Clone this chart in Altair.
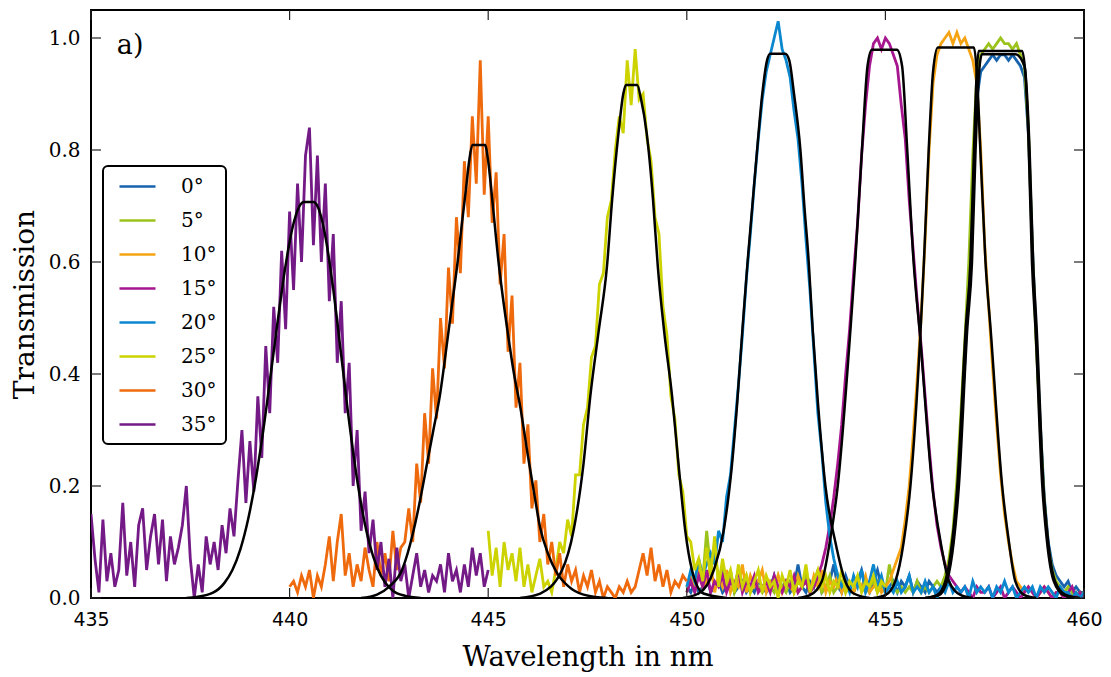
import altair as alt
import pandas as pd

# ---------------- data ----------------
ANGLES = ["0°", "5°", "10°", "15°", "20°", "25°", "30°", "35°"]
COLORS = ["#1763ad", "#9cc31b", "#f5a312", "#a6168f", "#0b87cf", "#ccd300", "#ee6a0d", "#731a86"]
X_TICKS = [435, 440, 445, 450, 455, 460]
Y_TICKS = [0.0, 0.2, 0.4, 0.6, 0.8, 1.0]
STEP = 0.1  # sampling of the listed values (nm)

# measured transmission, first wavelength of each list
start_0 = 450.0
meas_0 = [0.02, 0.01, 0.03, 0.01, 0.02, 0.04, 0.01, 0.02, 0.03, 0.01,
          0.02, 0.04, 0.01, 0.02, 0.03, 0.01, 0.02, 0.01, 0.03, 0.02,
          0.01, 0.02, 0.04, 0.01, 0.02, 0.03, 0.01, 0.02, 0.06, 0.02,
          0.01, 0.03, 0.02, 0.05, 0.01, 0.02, 0.03, 0.06, 0.02, 0.01,
          0.04, 0.02, 0.01, 0.03, 0.05, 0.02, 0.01, 0.03, 0.05, 0.02,
          0.01, 0.02, 0.03, 0.01, 0.03, 0.02, 0.04, 0.01, 0.03, 0.02,
          0.01, 0.03, 0.02, 0.01, 0.02, 0.03, 0.06, 0.10, 0.19, 0.30,
          0.42, 0.57, 0.75, 0.89, 0.94, 0.95, 0.96, 0.97, 0.96, 0.97,
          0.97, 0.96, 0.97, 0.96, 0.95, 0.93, 0.83, 0.63, 0.46, 0.31,
          0.18, 0.10, 0.06, 0.04, 0.03, 0.02, 0.03, 0.01, 0.02, 0.01,
          0.01]
start_5 = 450.0
meas_5 = [0.01, 0.04, 0.02, 0.06, 0.03, 0.12, 0.05, 0.09, 0.03, 0.06,
          0.02, 0.05, 0.01, 0.03, 0.02, 0.04, 0.01, 0.03, 0.02, 0.01,
          0.03, 0.02, 0.01, 0.04, 0.02, 0.01, 0.03, 0.02, 0.01, 0.02,
          0.04, 0.01, 0.02, 0.03, 0.01, 0.02, 0.04, 0.01, 0.02, 0.03,
          0.01, 0.02, 0.01, 0.03, 0.02, 0.01, 0.02, 0.03, 0.01, 0.02,
          0.01, 0.06, 0.02, 0.01, 0.02, 0.01, 0.02, 0.01, 0.03, 0.01,
          0.02, 0.01, 0.02, 0.03, 0.02, 0.04, 0.07, 0.12, 0.21, 0.33,
          0.46, 0.60, 0.79, 0.93, 0.97, 0.98, 0.99, 0.98, 0.99, 1.00,
          0.99, 0.99, 0.98, 0.99, 0.97, 0.95, 0.84, 0.62, 0.45, 0.30,
          0.17, 0.09, 0.05, 0.03, 0.02, 0.01, 0.02, 0.01, 0.00, 0.01,
          0.00]
start_10 = 450.0
meas_10 = [0.02, 0.04, 0.01, 0.05, 0.02, 0.03, 0.06, 0.01, 0.04, 0.02,
           0.05, 0.01, 0.03, 0.02, 0.06, 0.01, 0.04, 0.02, 0.03, 0.05,
           0.01, 0.03, 0.02, 0.04, 0.01, 0.03, 0.02, 0.01, 0.04, 0.02,
           0.03, 0.01, 0.04, 0.02, 0.05, 0.01, 0.03, 0.02, 0.04, 0.01,
           0.03, 0.02, 0.01, 0.03, 0.02, 0.04, 0.01, 0.02, 0.03, 0.01,
           0.02, 0.03, 0.05, 0.07, 0.09, 0.14, 0.20, 0.29, 0.39, 0.50,
           0.64, 0.80, 0.92, 0.97, 0.99, 1.00, 1.01, 0.99, 1.01, 0.99,
           1.00, 0.98, 0.96, 0.92, 0.80, 0.63, 0.52, 0.41, 0.31, 0.22,
           0.15, 0.10, 0.06, 0.03, 0.02, 0.01, 0.02, 0.01, 0.00, 0.01,
           0.02, 0.01, 0.00, 0.01, 0.01, 0.00, 0.01, 0.00, 0.01, 0.00,
           0.01]
start_15 = 450.0
meas_15 = [0.01, 0.03, 0.01, 0.04, 0.02, 0.05, 0.01, 0.03, 0.02, 0.04,
           0.01, 0.03, 0.02, 0.05, 0.01, 0.03, 0.02, 0.04, 0.01, 0.02,
           0.03, 0.01, 0.04, 0.02, 0.01, 0.03, 0.02, 0.04, 0.01, 0.02,
           0.03, 0.01, 0.02, 0.04, 0.06, 0.09, 0.13, 0.18, 0.24, 0.31,
           0.40, 0.48, 0.58, 0.67, 0.79, 0.88, 0.95, 0.99, 1.00, 0.98,
           1.00, 0.99, 0.97, 0.95, 0.88, 0.82, 0.71, 0.62, 0.53, 0.45,
           0.36, 0.27, 0.19, 0.13, 0.09, 0.06, 0.04, 0.03, 0.02, 0.01,
           0.02, 0.01, 0.00, 0.02, 0.01, 0.01, 0.02, 0.00, 0.01, 0.02,
           0.00, 0.01, 0.02, 0.01, 0.00, 0.01, 0.02, 0.01, 0.00, 0.01,
           0.02, 0.01, 0.00, 0.01, 0.01, 0.00, 0.01, 0.02, 0.00, 0.01,
           0.00]
start_20 = 450.0
meas_20 = [0.02, 0.05, 0.03, 0.07, 0.04, 0.06, 0.08, 0.06, 0.12, 0.10,
           0.18, 0.22, 0.30, 0.38, 0.47, 0.57, 0.65, 0.74, 0.82, 0.89,
           0.94, 0.97, 1.00, 1.03, 0.98, 0.96, 0.93, 0.87, 0.82, 0.74,
           0.64, 0.55, 0.44, 0.33, 0.26, 0.17, 0.11, 0.07, 0.04, 0.02,
           0.03, 0.01, 0.04, 0.02, 0.05, 0.01, 0.03, 0.06, 0.02, 0.04,
           0.01, 0.02, 0.01, 0.03, 0.01, 0.02, 0.04, 0.01, 0.02, 0.01,
           0.03, 0.01, 0.02, 0.00, 0.02, 0.01, 0.03, 0.01, 0.02, 0.01,
           0.02, 0.00, 0.03, 0.01, 0.02, 0.01, 0.02, 0.00, 0.02, 0.01,
           0.03, 0.01, 0.02, 0.00, 0.01, 0.02, 0.01, 0.02, 0.00, 0.02,
           0.01, 0.02, 0.01, 0.00, 0.02, 0.01, 0.01, 0.00, 0.01, 0.00,
           0.01]
start_25 = 445.0
meas_25 = [0.12, 0.04, 0.09, 0.02, 0.10, 0.05, 0.08, 0.03, 0.09, 0.02,
           0.06, 0.01, 0.04, 0.07, 0.02, 0.03, 0.01, 0.05, 0.10, 0.08,
           0.14, 0.11, 0.22, 0.22, 0.31, 0.34, 0.43, 0.45, 0.56, 0.58,
           0.68, 0.71, 0.80, 0.86, 0.83, 0.96, 0.88, 0.98, 0.89, 0.90,
           0.82, 0.78, 0.68, 0.65, 0.52, 0.47, 0.36, 0.32, 0.22, 0.19,
           0.11, 0.10, 0.05, 0.07, 0.03, 0.09, 0.04, 0.11, 0.02, 0.07,
           0.03, 0.05, 0.01, 0.06, 0.02, 0.04, 0.01, 0.03, 0.05, 0.01,
           0.04, 0.02, 0.03, 0.00, 0.04, 0.02, 0.05, 0.01, 0.03, 0.02,
           0.06, 0.01, 0.03, 0.05, 0.02, 0.04, 0.01, 0.03, 0.02, 0.05,
           0.01, 0.03, 0.02, 0.04, 0.01, 0.03, 0.02, 0.04, 0.01, 0.03,
           0.02]
start_30 = 440.0
meas_30 = [0.02, 0.03, 0.01, 0.04, 0.02, 0.05, 0.00, 0.04, 0.02, 0.06,
           0.11, 0.03, 0.10, 0.15, 0.04, 0.08, 0.02, 0.06, 0.03, 0.09,
           0.05, 0.02, 0.10, 0.04, 0.08, 0.03, 0.12, 0.05, 0.09, 0.10,
           0.16, 0.10, 0.24, 0.17, 0.33, 0.24, 0.41, 0.32, 0.50, 0.41,
           0.59, 0.49, 0.68, 0.58, 0.78, 0.68, 0.86, 0.74, 0.96, 0.72,
           0.86, 0.67, 0.76, 0.56, 0.65, 0.44, 0.54, 0.34, 0.42, 0.24,
           0.31, 0.16, 0.21, 0.10, 0.15, 0.06, 0.10, 0.04, 0.08, 0.02,
           0.06, 0.03, 0.05, 0.01, 0.04, 0.02, 0.05, 0.01, 0.03, 0.00,
           0.02, 0.01, 0.00, 0.02, 0.01, 0.03, 0.01, 0.02, 0.05, 0.08,
           0.04, 0.09, 0.03, 0.06, 0.02, 0.05, 0.01, 0.03, 0.02, 0.04,
           0.03]
start_35 = 435.0
meas_35 = [0.15, 0.07, 0.01, 0.14, 0.03, 0.08, 0.02, 0.05, 0.17, 0.04,
           0.10, 0.02, 0.13, 0.16, 0.05, 0.11, 0.15, 0.06, 0.14, 0.03,
           0.11, 0.06, 0.09, 0.13, 0.20, 0.07, 0.00, 0.06, 0.01, 0.11,
           0.06, 0.10, 0.05, 0.13, 0.08, 0.16, 0.11, 0.21, 0.30, 0.17,
           0.28, 0.19, 0.36, 0.25, 0.45, 0.33, 0.52, 0.42, 0.62, 0.48,
           0.69, 0.55, 0.74, 0.60, 0.79, 0.84, 0.63, 0.79, 0.60, 0.74,
           0.53, 0.65, 0.42, 0.53, 0.33, 0.42, 0.20, 0.30, 0.12, 0.19,
           0.08, 0.14, 0.05, 0.10, 0.02, 0.07, 0.00, 0.09, 0.03, 0.06,
           0.00, 0.04, 0.08, 0.02, 0.05, 0.01, 0.04, 0.03, 0.06, 0.01,
           0.08, 0.03, 0.05, 0.01, 0.06, 0.02, 0.09, 0.04, 0.08, 0.02,
           0.05]

# fitted model curves (wavelength, transmission)
fit_0 = [(456.0, 0.0), (456.35, 0.005), (456.55, 0.03), (456.72, 0.1), (456.85, 0.2), (457.06, 0.479),
         (457.18, 0.6), (457.27, 0.8), (457.36, 0.94), (457.43, 0.971), (458.27, 0.971), (458.5, 0.95),
         (458.63, 0.8), (458.72, 0.6), (458.81, 0.479), (458.98, 0.2), (459.1, 0.1), (459.27, 0.03),
         (459.55, 0.005), (459.9, 0.0)]
fit_5 = [(456.0, 0.0), (456.3, 0.005), (456.51, 0.03), (456.68, 0.1), (456.81, 0.2), (457.02, 0.479),
         (457.14, 0.6), (457.23, 0.8), (457.3, 0.94), (457.35, 0.977), (458.44, 0.977), (458.52, 0.94),
         (458.61, 0.8), (458.69, 0.6), (458.78, 0.479), (458.95, 0.2), (459.07, 0.1), (459.24, 0.03),
         (459.5, 0.005), (459.85, 0.0)]
fit_10 = [(454.7, 0.0), (455.0, 0.005), (455.25, 0.03), (455.46, 0.1), (455.63, 0.2), (455.88, 0.47),
          (455.97, 0.6), (456.09, 0.8), (456.2, 0.94), (456.32, 0.983), (457.23, 0.983), (457.3, 0.94),
          (457.39, 0.8), (457.52, 0.6), (457.65, 0.479), (457.94, 0.2), (458.11, 0.1), (458.27, 0.03),
          (458.5, 0.005), (458.8, 0.0)]
fit_15 = [(452.8, 0.0), (453.1, 0.005), (453.4, 0.03), (453.6, 0.1), (453.8, 0.2), (454.12, 0.479),
          (454.24, 0.6), (454.41, 0.8), (454.55, 0.95), (454.66, 0.979), (455.29, 0.979), (455.42, 0.95),
          (455.55, 0.8), (455.71, 0.6), (455.87, 0.47), (456.18, 0.2), (456.39, 0.1), (456.6, 0.03),
          (456.9, 0.005), (457.2, 0.0)]
fit_20 = [(449.9, 0.0), (450.3, 0.008), (450.68, 0.05), (450.93, 0.121), (451.14, 0.24), (451.26, 0.34),
          (451.4, 0.479), (451.53, 0.6), (451.65, 0.7), (451.77, 0.8), (451.9, 0.9), (452.02, 0.96),
          (452.1, 0.972), (452.48, 0.972), (452.58, 0.96), (452.7, 0.9), (452.86, 0.8), (452.96, 0.7),
          (453.07, 0.6), (453.17, 0.479), (453.3, 0.35), (453.49, 0.2), (453.74, 0.1), (453.99, 0.03),
          (454.2, 0.008), (454.6, 0.0)]
fit_25 = [(445.8, 0.0), (446.31, 0.008), (446.86, 0.05), (447.15, 0.121), (447.4, 0.24), (447.57, 0.36),
          (447.78, 0.476), (447.99, 0.592), (448.12, 0.711), (448.28, 0.83), (448.4, 0.9), (448.47, 0.916),
          (448.75, 0.916), (448.85, 0.89), (448.99, 0.83), (449.15, 0.711), (449.27, 0.592), (449.43, 0.476),
          (449.63, 0.36), (449.79, 0.24), (449.96, 0.121), (450.13, 0.05), (450.42, 0.008), (451.0, 0.0)]
fit_30 = [(441.8, 0.0), (442.2, 0.006), (442.5, 0.02), (442.83, 0.05), (443.12, 0.12), (443.3, 0.18),
          (443.46, 0.24), (443.62, 0.30), (443.78, 0.36), (443.99, 0.47), (444.12, 0.54), (444.23, 0.60),
          (444.34, 0.67), (444.44, 0.73), (444.52, 0.78), (444.6, 0.809), (444.92, 0.809), (445.0, 0.78),
          (445.09, 0.72), (445.26, 0.60), (445.5, 0.47), (445.65, 0.40), (445.81, 0.34), (446.02, 0.245),
          (446.15, 0.19), (446.31, 0.125), (446.5, 0.08), (446.73, 0.045), (447.0, 0.022), (447.4, 0.006),
          (448.0, 0.0)]
fit_35 = [(437.4, 0.0), (437.66, 0.002), (438.06, 0.009), (438.36, 0.027), (438.56, 0.05), (438.76, 0.087),
          (438.96, 0.142), (439.16, 0.217), (439.26, 0.262), (439.36, 0.311), (439.46, 0.364), (439.56, 0.418),
          (439.66, 0.473), (439.76, 0.526), (439.86, 0.576), (439.96, 0.620), (440.06, 0.657), (440.16, 0.684),
          (440.26, 0.701), (440.36, 0.707), (440.6, 0.707), (440.7, 0.700), (440.8, 0.679), (440.9, 0.646),
          (441.0, 0.602), (441.1, 0.551), (441.2, 0.493), (441.3, 0.433), (441.4, 0.373), (441.5, 0.314),
          (441.6, 0.260), (441.7, 0.211), (441.8, 0.168), (441.9, 0.131), (442.0, 0.100), (442.2, 0.055),
          (442.4, 0.028), (442.6, 0.013), (442.9, 0.004), (443.3, 0.0)]

# ---------------- tables ----------------
meas = {"0°": (start_0, meas_0), "5°": (start_5, meas_5), "10°": (start_10, meas_10),
        "15°": (start_15, meas_15), "20°": (start_20, meas_20), "25°": (start_25, meas_25),
        "30°": (start_30, meas_30), "35°": (start_35, meas_35)}
fits = {"0°": fit_0, "5°": fit_5, "10°": fit_10, "15°": fit_15, "20°": fit_20,
        "25°": fit_25, "30°": fit_30, "35°": fit_35}

rows = []
for a in ANGLES:
    s, vals = meas[a]
    for i, v in enumerate(vals):
        rows.append({"angle": a, "order": ANGLES.index(a), "wl": round(s + STEP * i, 2), "T": v})
df_meas = pd.DataFrame(rows)

frows = []
for a in ANGLES:
    for w, t in fits[a]:
        frows.append({"angle": a, "wl": w, "T": t})
df_fit = pd.DataFrame(frows)

df_xt = pd.DataFrame({"wl": X_TICKS})
df_yt = pd.DataFrame({"T": Y_TICKS})

# ---------------- encodings ----------------
XS = alt.Scale(domain=[435, 460], nice=False, zero=False)
YS = alt.Scale(domain=[0, 1.05], nice=False, zero=False)
AX = alt.Axis(values=X_TICKS, format="d", ticks=False, domain=False, grid=False,
              labelFont="DejaVu Sans", labelFontSize=19, labelColor="black", labelPadding=12,
              labelFlush=False, labelOverlap=False,
              titleFont="DejaVu Serif", titleFontSize=27.5, titleFontWeight="normal",
              titleColor="black", titlePadding=14)
AY = alt.Axis(values=Y_TICKS, format=".1f", ticks=False, domain=False, grid=False,
              labelFont="DejaVu Serif", labelFontSize=20, labelColor="black", labelPadding=11,
              labelFlush=False, labelOverlap=False,
              titleFont="DejaVu Serif", titleFontSize=28, titleFontWeight="normal",
              titleColor="black", titlePadding=9)


def X():
    return alt.X("wl:Q", scale=XS, axis=AX, title="Wavelength in nm")


def Y():
    return alt.Y("T:Q", scale=YS, axis=AY, title="Transmission")


meas_layer = alt.Chart(df_meas).mark_line(strokeWidth=2.8, clip=True).encode(
    x=X(), y=Y(),
    color=alt.Color("angle:N", scale=alt.Scale(domain=ANGLES, range=COLORS),
                    legend=alt.Legend(title=None, orient="none", legendX=12, legendY=156,
                                      symbolType="M-0.4,0H3.2", symbolSize=400,
                                      symbolStrokeWidth=2.5, labelFont="DejaVu Serif",
                                      labelFontSize=20, labelColor="black", labelOffset=46,
                                      padding=9, rowPadding=12, strokeColor="black",
                                      cornerRadius=5, fillColor="white")),
    order=alt.Order("order:Q"),
)

fit_layer = alt.Chart(df_fit).mark_line(color="black", strokeWidth=2.5, interpolate="monotone",
                                         clip=True).encode(
    x=X(), y=Y(), detail="angle:N")

tick_style = dict(color="#222222", strokeWidth=1.2)
xt_bottom = alt.Chart(df_xt).mark_rule(**tick_style).encode(x=X(), y=alt.value(588), y2=alt.value(578))
xt_top = alt.Chart(df_xt).mark_rule(**tick_style).encode(x=X(), y=alt.value(0), y2=alt.value(10))
yt_left = alt.Chart(df_yt).mark_rule(**tick_style).encode(y=Y(), x=alt.value(0), x2=alt.value(10))
yt_right = alt.Chart(df_yt).mark_rule(**tick_style).encode(y=Y(), x=alt.value(993), x2=alt.value(983))

label_a = alt.Chart(pd.DataFrame({"t": ["a)"]})).mark_text(
    font="DejaVu Serif", fontSize=27, align="left", baseline="middle", color="black").encode(
    x=alt.datum(435.65), y=alt.datum(0.985), text="t:N")

chart = alt.layer(meas_layer, fit_layer, xt_bottom, xt_top, yt_left, yt_right, label_a).properties(
    width=993, height=588,
    padding={"left": 91, "top": 10, "right": 27, "bottom": 79},
    autosize=alt.AutoSizeParams(type="none"),
).configure_view(stroke="black", strokeWidth=2).configure_legend(strokeWidth=2)

chart.save("out.html", embed_options={"renderer": "svg", "actions": False})
